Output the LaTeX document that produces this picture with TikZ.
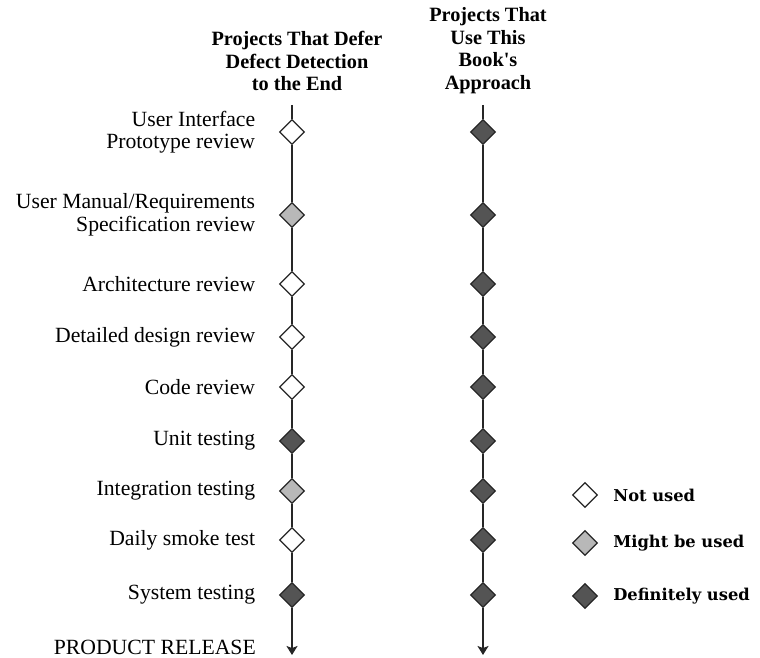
\documentclass[tikz,border=0pt]{standalone}
\usepackage{fontspec}
\setmainfont{Liberation Serif}
\newfontfamily\keyfont{DejaVu Serif}
\usetikzlibrary{shapes.geometric,arrows.meta,positioning}
\definecolor{maybegray}{gray}{0.72}
\definecolor{suregray}{gray}{0.33}
\tikzset{
    stage/.style={diamond, draw=black!85, line width=1.3pt, minimum width=25pt, minimum height=25pt, inner sep=0pt},
    notused/.style={stage, fill=white},
    maybe/.style={stage, fill=maybegray},
    always/.style={stage, fill=suregray},
    steplabel/.style={font=\fontsize{21.7}{22.5}\selectfont, align=right, inner sep=0pt},
    head/.style={font=\fontsize{20.3}{22.5}\selectfont\bfseries, align=center, inner sep=0pt},
    key/.style={font=\keyfont\fontsize{16.3}{18}\selectfont\bfseries, inner sep=0pt},
    flow/.style={draw=black!85, line width=1.3pt},
    tip/.style={flow, -{Stealth[length=9pt,width=11pt,inset=2pt]}}
}

\begin{document}
\begin{tikzpicture}[x=1pt, y=-1pt]
    \useasboundingbox (0,0) rectangle (760,658);

    % Column headings
    \node [head] (defer) at (297,61) {Projects That Defer\\Defect Detection\\to the End};
    \node [head] (book) at (488,50.5) {Projects That\\Use This\\Book\textquotesingle s\\Approach};

    % Stages, one row each
    \foreach \i/\y/\kind/\txt in {
        1/132/notused/{User Interface\\Prototype review},
        2/215/maybe/{User Manual/Requirements\\Specification review},
        3/284/notused/{Architecture review},
        4/337/notused/{Detailed design review},
        5/387/notused/{Code review},
        6/441/always/{Unit testing},
        7/491/maybe/{Integration testing},
        8/540/notused/{Daily smoke test},
        9/595/always/{System testing}} {
        \node [\kind] (L\i) at (292,\y) {};
        \node [always] (R\i) at (483,\y) {};
        \node [steplabel, left=23.5pt of L\i] (t\i) {\txt};
    }

    % Time lines
    \coordinate (Ltop) at (292,105);
    \coordinate (Rtop) at (483,105);
    \coordinate (Lend) at (292,655);
    \coordinate (Rend) at (483,655);
    \node [steplabel, anchor=east] (release) at (256,647) {PRODUCT RELEASE};

    \draw [flow] (Ltop) -- (L1);
    \draw [flow] (Rtop) -- (R1);
    \foreach \i/\j in {1/2,2/3,3/4,4/5,5/6,6/7,7/8,8/9} {
        \draw [flow] (L\i) -- (L\j);
        \draw [flow] (R\i) -- (R\j);
    }
    \draw [tip] (L9) -- (Lend);
    \draw [tip] (R9) -- (Rend);

    % Key
    \node [notused] (k1) at (585,495) {};
    \node [maybe] (k2) at (585,543) {};
    \node [always] (k3) at (585,596) {};
    \node [key, right=15pt of k1] {Not used};
    \node [key, right=15pt of k2] {Might be used};
    \node [key, right=15pt of k3] {Definitely used};
\end{tikzpicture}
\end{document}
